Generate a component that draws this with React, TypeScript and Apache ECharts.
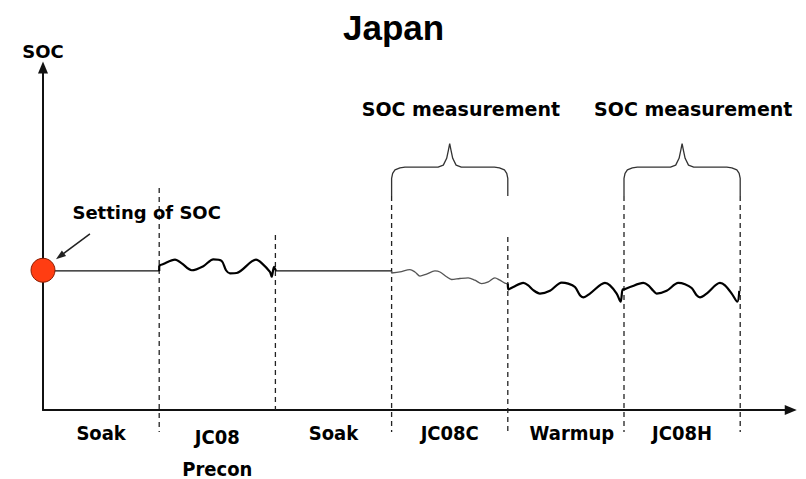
import React, { useEffect, useRef } from 'react';
import * as echarts from 'echarts';

// ---------- data ----------
const TITLE = 'Japan';
const Y_NAME = 'SOC';
const PHASE_LABELS = ['Soak', 'JC08\nPrecon', 'Soak', 'JC08C', 'Warmup', 'JC08H'];

const START_SOC = 40.8; // "Setting of SOC" point
const SOAK_SOC = 40.6;

// JC08 Precon (segment 1)
const PRECON_PHASE = [0, 0, 0.035, 0.136, 0.194, 0.28, 0.38, 0.466, 0.538, 0.575, 0.609, 0.667, 0.833, 0.882, 0.953, 0.968, 0.988, 1.005];
const PRECON_SOC = [40.6, 42.0, 42.6, 43.9, 42.8, 40.8, 42.0, 44.0, 43.5, 40.8, 39.9, 40.0, 43.9, 42.9, 40.3, 38.9, 41.8, 40.6];

// JC08C (segment 3)
const COLD_PHASE = [0, 0, 0.072, 0.158, 0.201, 0.244, 0.301, 0.373, 0.416, 0.473, 0.516, 0.587, 0.659, 0.717, 0.775, 0.832, 0.889, 0.932, 0.99, 1];
const COLD_SOC = [40.6, 40.0, 40.3, 41.0, 40.3, 39.1, 39.7, 40.6, 40.3, 38.9, 38.1, 38.4, 38.6, 37.9, 36.9, 37.4, 38.6, 37.9, 36.9, 36.9];

// Warmup (segment 4)
const WARMUP_PHASE = [0, 0.004, 0.047, 0.133, 0.176, 0.219, 0.277, 0.363, 0.463, 0.52, 0.578, 0.621, 0.649, 0.707, 0.836, 0.879, 0.937, 0.971, 0.988, 1];
const WARMUP_SOC = [36.9, 35.2, 35.9, 37.1, 36.4, 35.0, 34.0, 34.8, 37.2, 36.9, 35.9, 33.5, 32.9, 34.0, 37.1, 36.4, 34.0, 31.6, 35.2, 35.2];

// JC08H (segment 5)
const HOT_PHASE = [0, 0.052, 0.166, 0.209, 0.252, 0.281, 0.367, 0.467, 0.525, 0.582, 0.625, 0.654, 0.711, 0.826, 0.869, 0.927, 0.975, 0.992];
const HOT_SOC = [35.2, 35.9, 37.1, 36.4, 34.8, 34.0, 34.8, 37.1, 36.7, 35.6, 33.5, 32.9, 34.0, 37.1, 36.4, 34.0, 31.6, 34.8];

// phase boundaries (dashed lines)
const DASH_X = [1, 2, 3, 4, 5, 6];
const DASH_TOP = [64.8, 51.1, 62.5, 50.5, 62.5, 62.5];
const DASH_BOTTOM = [-6.4, 0, -6.4, -6.4, -6.4, -6.4];

// curly brace shape (relative phase within a segment)
const BRACE_SEGMENTS = [3, 5];
const BRACE_PHASE = [0, 0, 0.009, 0.029, 0.072, 0.115, 0.40, 0.445, 0.474, 0.489, 0.5, 0.511, 0.526, 0.555, 0.60, 0.885, 0.928, 0.971, 0.991, 1, 1];
const BRACE_SOC = [62.5, 67.6, 69.1, 70.1, 70.7, 70.9, 70.9, 71.5, 73.5, 75.9, 77.8, 75.9, 73.5, 71.5, 70.9, 70.9, 70.7, 70.1, 69.1, 67.6, 62.5];

// annotations
const NOTE_TEXTS = ['Setting of SOC', 'SOC measurement', 'SOC measurement'];
const NOTE_X = [0.892, 3.596, 5.596];
const NOTE_Y = [57.7, 87.9, 87.9];
const NOTE_SIZE = [18, 19, 19];
const POINTER_FROM = [0.404, 51.4];
const POINTER_TO = [0.146, 44.9];

// ---------- helpers ----------
const seg = (index: number, phases: number[], socs: number[]) =>
  phases.map((p, i) => [index + p, socs[i]]);

const UNIT = 116.2;
const X_MAX = 6.435;
const GRID_LEFT = 43;
const GRID_TOP = 67.5;
const GRID_BOTTOM = 69;

const BOLD_TEXT = { fontFamily: 'DejaVu Sans', fontWeight: 'bold' as const, color: '#000' };

function buildOption() {
  const thin = { color: '#111', width: 1.2 };
  const thick = { color: '#000', width: 2.2 };
  const lineBase = { type: 'line', symbol: 'none', silent: true, xAxisIndex: 0, yAxisIndex: 0 };

  const series: any[] = [
    { ...lineBase, data: [[0, SOAK_SOC], [1, SOAK_SOC]], lineStyle: thin, z: 3 },
    { ...lineBase, data: seg(1, PRECON_PHASE, PRECON_SOC), lineStyle: thick, smooth: 0.3, z: 3 },
    { ...lineBase, data: [[2, SOAK_SOC], [3, SOAK_SOC]], lineStyle: thin, z: 3 },
    { ...lineBase, data: seg(3, COLD_PHASE, COLD_SOC), lineStyle: { color: '#555', width: 1.3 }, smooth: 0.3, z: 3 },
    { ...lineBase, data: seg(4, WARMUP_PHASE, WARMUP_SOC), lineStyle: thick, smooth: 0.3, z: 3 },
    { ...lineBase, data: seg(5, HOT_PHASE, HOT_SOC), lineStyle: thick, smooth: 0.3, z: 3 },
  ];

  DASH_X.forEach((x, i) => {
    series.push({
      ...lineBase,
      clip: false,
      data: [[x, DASH_TOP[i]], [x, DASH_BOTTOM[i]]],
      lineStyle: { color: '#222', width: 1.3, type: [5, 4] },
      z: 2,
    });
  });

  BRACE_SEGMENTS.forEach((s) => {
    series.push({
      ...lineBase,
      clip: false,
      data: seg(s, BRACE_PHASE, BRACE_SOC),
      lineStyle: { color: '#333', width: 1.3 },
      z: 2,
    });
  });

  series.push({
    type: 'scatter',
    silent: true,
    clip: false,
    symbol: 'circle',
    symbolSize: 24,
    data: [[0, START_SOC]],
    itemStyle: { color: '#ff3d12', borderColor: '#8a1c00', borderWidth: 1, opacity: 1 },
    z: 10,
  });

  series.push({
    type: 'scatter',
    silent: true,
    clip: false,
    symbolSize: 0,
    itemStyle: { opacity: 1 },
    data: NOTE_TEXTS.map((t, i) => ({
      name: t,
      value: [NOTE_X[i], NOTE_Y[i]],
      label: { fontSize: NOTE_SIZE[i] },
    })),
    label: {
      show: true,
      position: 'inside',
      formatter: '{b}',
      opacity: 1,
      textBorderWidth: 0,
      ...BOLD_TEXT,
    },
    markLine: {
      silent: true,
      symbol: ['none', 'triangle'],
      symbolSize: [7, 10],
      label: { show: false },
      lineStyle: { color: '#222', width: 1.5, type: 'solid', opacity: 1 },
      emphasis: { disabled: true },
      data: [[{ coord: POINTER_FROM }, { coord: POINTER_TO }]],
    },
    z: 11,
  });

  return {
    animation: false,
    backgroundColor: '#fff',
    title: {
      text: TITLE,
      left: 338,
      top: 5,
      textStyle: { fontFamily: 'Liberation Sans', fontWeight: 'bold', fontSize: 35, color: '#000' },
    },
    grid: [
      { left: GRID_LEFT, top: GRID_TOP, bottom: GRID_BOTTOM, width: X_MAX * UNIT },
      { left: GRID_LEFT, width: 6 * UNIT, bottom: GRID_BOTTOM, height: 10 },
    ],
    xAxis: [
      {
        type: 'value',
        gridIndex: 0,
        min: 0,
        max: X_MAX,
        axisLine: {
          show: true,
          symbol: ['none', 'triangle'],
          symbolSize: [10, 12],
          lineStyle: { color: '#111', width: 2 },
        },
        axisTick: { show: false },
        axisLabel: { show: false },
        splitLine: { show: false },
      },
      {
        type: 'category',
        gridIndex: 1,
        data: PHASE_LABELS.map((l, i) => {
          if (l.includes('\n')) return { value: l, textStyle: { lineHeight: 32 } };
          if (i === 4) return { value: l, textStyle: { padding: [0, 0, 0, 12] } };
          return l;
        }),
        axisLine: { show: false },
        axisTick: { show: false },
        splitLine: { show: false },
        axisLabel: {
          margin: 18,
          interval: 0,
          fontFamily: 'DejaVu Sans Condensed, DejaVu Sans',
          fontWeight: 'bold',
          fontSize: 20,
          lineHeight: 24,
          color: '#000',
        },
      },
    ],
    yAxis: [
      {
        type: 'value',
        gridIndex: 0,
        min: 0,
        max: 100,
        name: Y_NAME,
        nameLocation: 'end',
        nameGap: 7,
        nameTextStyle: { ...BOLD_TEXT, fontSize: 18 },
        axisLine: {
          show: true,
          symbol: ['none', 'triangle'],
          symbolSize: [10, 12],
          lineStyle: { color: '#111', width: 2 },
        },
        axisTick: { show: false },
        axisLabel: { show: false },
        splitLine: { show: false },
      },
      { type: 'value', gridIndex: 1, show: false },
    ],
    series,
  };
}

export default function App() {
  const ref = useRef<HTMLDivElement>(null);
  useEffect(() => {
    if (!ref.current) return;
    const chart = echarts.init(ref.current, null, { renderer: 'svg' });
    chart.setOption(buildOption() as any);
    return () => chart.dispose();
  }, []);
  return (
    <div
      ref={ref}
      style={{ position: 'absolute', left: 0, top: 0, width: 806, height: 479 }}
    />
  );
}
